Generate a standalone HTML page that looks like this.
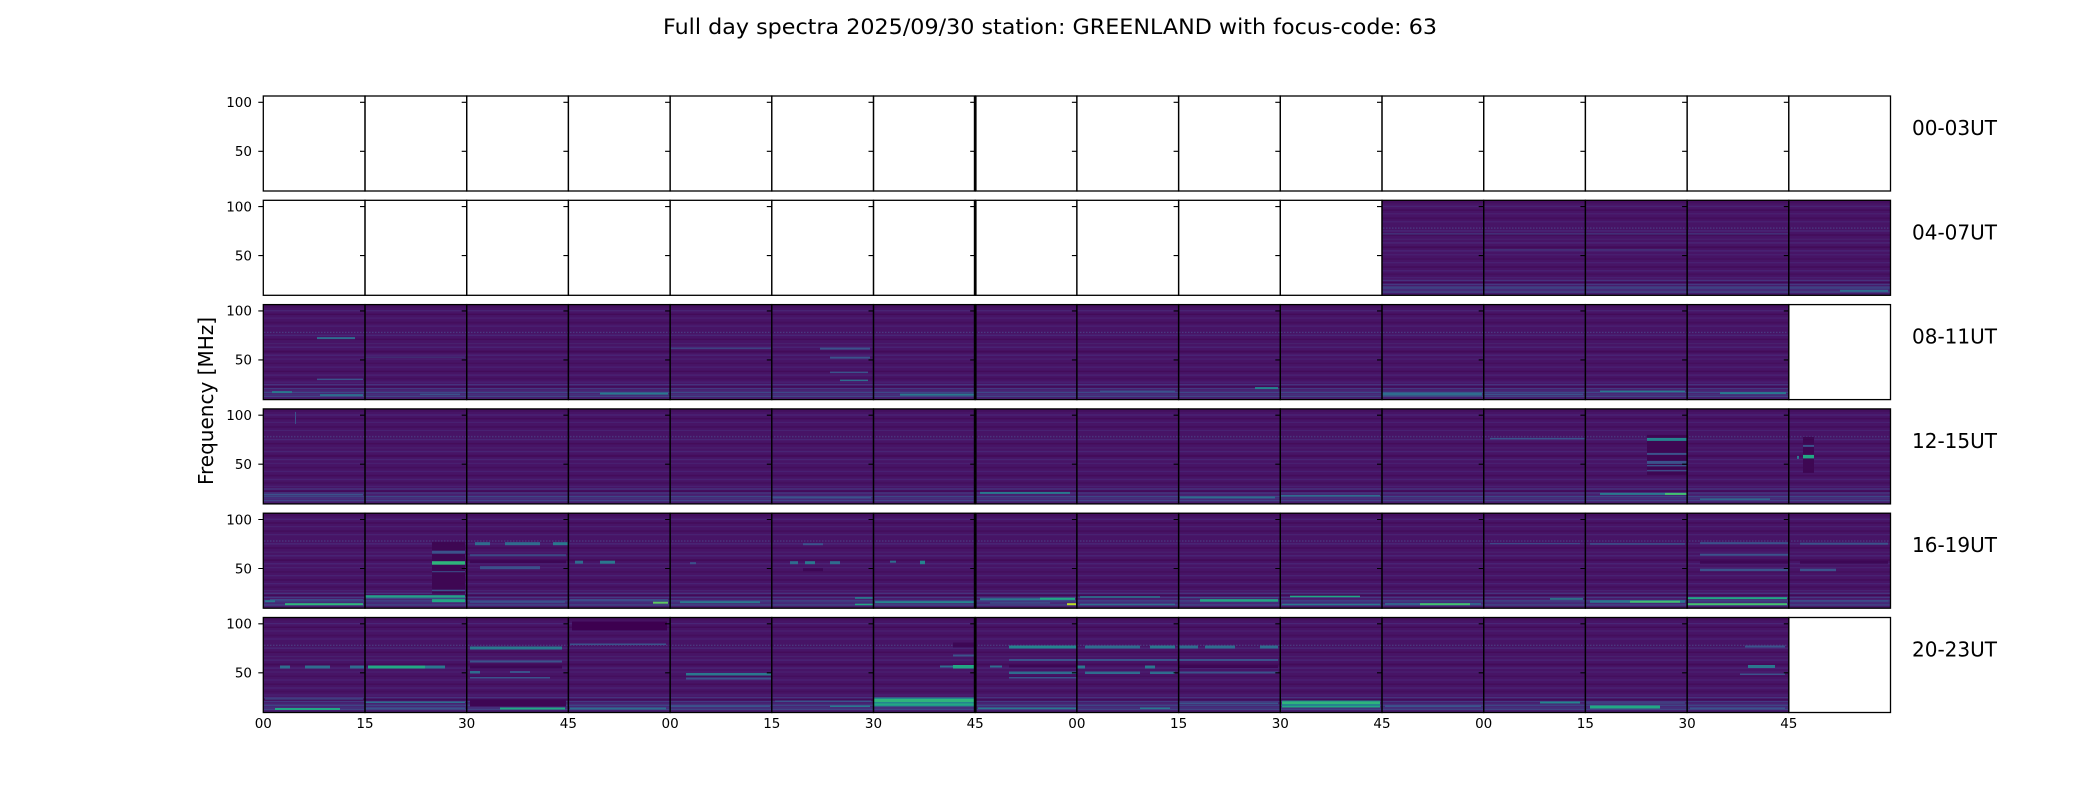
<!DOCTYPE html>
<html><head><meta charset="utf-8"><style>
html,body{margin:0;padding:0;background:#fff;}
svg{display:block;}
text{font-family:"DejaVu Sans","Liberation Sans",sans-serif;fill:#000;}
</style></head><body>
<svg width="2100" height="800" viewBox="0 0 2100 800" xmlns="http://www.w3.org/2000/svg">
<defs>
<pattern id="bg" patternUnits="userSpaceOnUse" x="0" y="96" width="2100" height="104.3">
<rect width="2100" height="95" fill="#471466"/>
<rect y="0" width="2100" height="3" fill="#440f5e"/>
<rect y="5.5" width="2100" height="1.2" fill="#482576"/>
<rect y="9" width="2100" height="1.5" fill="#430b59"/>
<rect y="13" width="2100" height="1" fill="#482273"/>
<rect y="17" width="2100" height="2" fill="#440e5d"/>
<rect y="21" width="2100" height="1" fill="#482475"/>
<line x1="0" y1="27.8" x2="2100" y2="27.8" stroke="#4a3a80" stroke-width="1.2" stroke-dasharray="1.5 1.5"/>
<rect y="30" width="2100" height="1.3" fill="#482878"/>
<rect y="34" width="2100" height="1.5" fill="#430c5a"/>
<rect y="38.5" width="2100" height="1" fill="#48226f"/>
<rect y="42" width="2100" height="1.2" fill="#482677"/>
<rect y="46" width="2100" height="2" fill="#430b59"/>
<rect y="50" width="2100" height="1.2" fill="#482677"/>
<rect y="54" width="2100" height="1" fill="#482273"/>
<rect y="58" width="2100" height="1.5" fill="#440e5d"/>
<rect y="62" width="2100" height="1" fill="#482475"/>
<rect y="66" width="2100" height="1.5" fill="#430c5a"/>
<rect y="70" width="2100" height="1" fill="#482677"/>
<rect y="73" width="2100" height="2" fill="#440f5e"/>
<rect y="77" width="2100" height="1" fill="#482475"/>
<rect y="79.5" width="2100" height="1.2" fill="#453781"/>
<rect y="81.5" width="2100" height="1.5" fill="#420a58"/>
<rect y="83.5" width="2100" height="1.2" fill="#433e85"/>
<rect y="85.5" width="2100" height="1" fill="#482576"/>
<rect y="87" width="2100" height="1.5" fill="#3e4989"/>
<rect y="89" width="2100" height="1.5" fill="#46307e"/>
<rect y="91" width="2100" height="1.5" fill="#3f4788"/>
<rect y="93" width="2100" height="2" fill="#471d6d"/>
</pattern>
<g id="frames" fill="none" stroke="#000">
<g stroke-width="1.3">
<rect x="263.3" y="0" width="101.7" height="95"/>
<rect x="365.0" y="0" width="101.7" height="95"/>
<rect x="466.7" y="0" width="101.7" height="95"/>
<rect x="568.4" y="0" width="101.7" height="95"/>
<rect x="670.1" y="0" width="101.7" height="95"/>
<rect x="771.8" y="0" width="101.7" height="95"/>
<rect x="873.5" y="0" width="101.7" height="95"/>
<rect x="975.2" y="0" width="101.7" height="95"/>
<rect x="1076.9" y="0" width="101.7" height="95"/>
<rect x="1178.6" y="0" width="101.7" height="95"/>
<rect x="1280.3" y="0" width="101.7" height="95"/>
<rect x="1382.0" y="0" width="101.7" height="95"/>
<rect x="1483.7" y="0" width="101.7" height="95"/>
<rect x="1585.4" y="0" width="101.7" height="95"/>
<rect x="1687.1" y="0" width="101.7" height="95"/>
<rect x="1788.8" y="0" width="101.7" height="95"/>
</g>
<line x1="975.2" y1="0" x2="975.2" y2="95" stroke-width="2.8"/>
<path stroke-width="1.1" d="M263.3 6.3h-5M263.3 55.3h-5M365 6.3h-5M365 55.3h-5M466.7 6.3h-5M466.7 55.3h-5M568.4 6.3h-5M568.4 55.3h-5M670.1 6.3h-5M670.1 55.3h-5M771.8 6.3h-5M771.8 55.3h-5M873.5 6.3h-5M873.5 55.3h-5M975.2 6.3h-5M975.2 55.3h-5M1076.9 6.3h-5M1076.9 55.3h-5M1178.6 6.3h-5M1178.6 55.3h-5M1280.3 6.3h-5M1280.3 55.3h-5M1382 6.3h-5M1382 55.3h-5M1483.7 6.3h-5M1483.7 55.3h-5M1585.4 6.3h-5M1585.4 55.3h-5M1687.1 6.3h-5M1687.1 55.3h-5M1788.8 6.3h-5M1788.8 55.3h-5"/>
<text x="252" y="11.1" text-anchor="end" font-size="13.5" stroke="none">100</text>
<text x="252" y="60.1" text-anchor="end" font-size="13.5" stroke="none">50</text>
</g>
</defs>

<!-- data areas -->
<rect x="1382" y="200.3" width="508.5" height="95" fill="url(#bg)"/>
<rect x="263.3" y="304.6" width="1525.5" height="95" fill="url(#bg)"/>
<rect x="263.3" y="408.9" width="1627.2" height="95" fill="url(#bg)"/>
<rect x="263.3" y="513.2" width="1627.2" height="95" fill="url(#bg)"/>
<rect x="263.3" y="617.5" width="1525.5" height="95" fill="url(#bg)"/>

<!-- row 2 features -->
<g transform="translate(0,200.3)">
<rect x="1382" y="33" width="406" height="1.2" fill="#3e4a88" opacity=".7"/>
<rect x="1483" y="49" width="204" height="1" fill="#3b528b" opacity=".6"/>
<rect x="1382" y="86" width="508" height="1" fill="#3b528b" opacity=".6"/>
<rect x="1840" y="89.5" width="48" height="2" fill="#2f6c8e"/>
</g>

<!-- row 3 features -->
<g transform="translate(0,304.6)">
<rect x="317" y="32.5" width="38" height="2" fill="#2f6c8e"/>
<rect x="317" y="74" width="46" height="1.5" fill="#3b528b"/>
<rect x="272" y="86.5" width="20" height="2" fill="#2a788e"/>
<rect x="320" y="89.5" width="43" height="2" fill="#2f6c8e"/>
<rect x="365" y="52" width="100" height="1" fill="#3b528b" opacity=".6"/>
<rect x="420" y="89" width="40" height="1.5" fill="#3b528b"/>
<rect x="600" y="88" width="68" height="2" fill="#2a788e"/>
<rect x="670" y="43" width="101" height="1.5" fill="#3b528b" opacity=".7"/>
<rect x="820" y="43" width="50" height="2" fill="#3b528b"/>
<rect x="830" y="52" width="40" height="2" fill="#3b528b"/>
<rect x="830" y="67" width="38" height="1.5" fill="#3b528b"/>
<rect x="840" y="75" width="28" height="1.5" fill="#2f6c8e"/>
<rect x="900" y="89" width="75" height="2" fill="#2a788e"/>
<rect x="1100" y="86" width="75" height="1.5" fill="#3b528b"/>
<rect x="1255" y="82.5" width="23" height="2" fill="#25848e"/>
<rect x="1382" y="88" width="100" height="3" fill="#2f6c8e"/>
<rect x="1483" y="89" width="100" height="1.5" fill="#3b528b"/>
<rect x="1600" y="86" width="85" height="1.5" fill="#2a788e"/>
<rect x="1720" y="87.5" width="66" height="2" fill="#2a788e"/>
</g>

<!-- row 4 features -->
<g transform="translate(0,408.9)">
<rect x="295" y="3" width="1" height="12" fill="#3b528b"/>
<rect x="263" y="85" width="100" height="1.5" fill="#3b528b"/>
<rect x="771" y="88" width="100" height="1.5" fill="#3b528b"/>
<rect x="980" y="83" width="90" height="2" fill="#2a788e"/>
<rect x="1180" y="87.5" width="95" height="2" fill="#2f6c8e"/>
<rect x="1280" y="86" width="100" height="1.5" fill="#2f6c8e"/>
<rect x="1490" y="29" width="95" height="1.5" fill="#3b528b"/>
<rect x="1647" y="26" width="40" height="40" fill="#3e0753"/>
<rect x="1647" y="29" width="40" height="3" fill="#25848e"/>
<rect x="1647" y="44" width="40" height="2" fill="#3b528b"/>
<rect x="1647" y="52" width="40" height="3" fill="#3b528b"/>
<rect x="1647" y="56" width="40" height="1.5" fill="#3b528b"/>
<rect x="1647" y="61" width="40" height="1.5" fill="#3e4a88"/>
<rect x="1600" y="84" width="87" height="2" fill="#2a788e"/>
<rect x="1665" y="84" width="22" height="2" fill="#44bf70"/>
<rect x="1700" y="89.5" width="70" height="1.5" fill="#2f6c8e"/>
<rect x="1803" y="28" width="11" height="36" fill="#3e0753"/>
<rect x="1803" y="36" width="11" height="2" fill="#3b528b"/>
<rect x="1803" y="46" width="11" height="3.5" fill="#22a884"/>
<rect x="1797" y="47" width="2" height="3" fill="#2a788e"/>
</g>

<!-- row 5 features -->
<g transform="translate(0,513.2)">
<rect x="270" y="86" width="93" height="1" fill="#3b528b"/>
<rect x="265" y="87" width="10" height="2" fill="#2a788e"/>
<rect x="285" y="90" width="78" height="2" fill="#2fb47c"/>
<rect x="365" y="82" width="100" height="2.5" fill="#25a08a"/>
<rect x="365" y="85" width="100" height="1" fill="#3b528b"/>
<rect x="432" y="28.5" width="33" height="52" fill="#3e0753"/>
<rect x="432" y="37.5" width="33" height="3" fill="#3b528b"/>
<rect x="432" y="48" width="33" height="3.5" fill="#2fb47c"/>
<rect x="432" y="58" width="33" height="1" fill="#3b528b"/>
<rect x="432" y="76.5" width="33" height="1.5" fill="#3b528b"/>
<rect x="432" y="86" width="33" height="3" fill="#22a884"/>
<rect x="475" y="29" width="15" height="3" fill="#2f6c8e"/>
<rect x="505" y="29" width="35" height="3" fill="#2f6c8e"/>
<rect x="553" y="29" width="15" height="3" fill="#2a788e"/>
<rect x="470" y="41" width="96" height="2" fill="#3b528b" opacity=".8"/>
<rect x="470" y="47" width="96" height="3" fill="#3d0755"/>
<rect x="480" y="53" width="60" height="3" fill="#3b528b"/>
<rect x="470" y="88" width="95" height="1.5" fill="#3b528b"/>
<rect x="575" y="47.5" width="8" height="3" fill="#2f6c8e"/>
<rect x="600" y="47.5" width="15" height="3" fill="#2a788e"/>
<rect x="570" y="86" width="98" height="1.5" fill="#3b528b"/>
<rect x="653" y="88.5" width="15" height="2" fill="#5ec962"/>
<rect x="680" y="88" width="80" height="2" fill="#2a788e"/>
<rect x="690" y="49" width="6" height="2" fill="#3b528b"/>
<rect x="790" y="48" width="8" height="3" fill="#2f6c8e"/>
<rect x="805" y="48" width="10" height="3" fill="#2a788e"/>
<rect x="830" y="48" width="10" height="3" fill="#2f6c8e"/>
<rect x="803" y="30" width="20" height="2" fill="#3b528b"/>
<rect x="803" y="55" width="20" height="3" fill="#3d0755"/>
<rect x="855" y="84" width="18" height="1.5" fill="#25848e"/>
<rect x="855" y="90.5" width="18" height="1.5" fill="#22a884"/>
<rect x="920" y="47.5" width="5" height="3.5" fill="#25848e"/>
<rect x="890" y="47.5" width="6" height="2" fill="#2f6c8e"/>
<rect x="875" y="88" width="100" height="2" fill="#25848e"/>
<rect x="980" y="85" width="95" height="2" fill="#2a788e"/>
<rect x="1040" y="84.5" width="35" height="2" fill="#22a884"/>
<rect x="990" y="89" width="60" height="1.5" fill="#3b528b"/>
<rect x="1067" y="90" width="9" height="2" fill="#bddf26"/>
<rect x="1080" y="83" width="80" height="1.5" fill="#2a788e"/>
<rect x="1080" y="90.5" width="95" height="1.5" fill="#2f6c8e"/>
<rect x="1180" y="84" width="98" height="1" fill="#3b528b"/>
<rect x="1200" y="86" width="78" height="2.5" fill="#22a884"/>
<rect x="1290" y="82.5" width="70" height="1.5" fill="#22a884"/>
<rect x="1282" y="90.5" width="98" height="1.5" fill="#2a788e"/>
<rect x="1385" y="90" width="96" height="1.5" fill="#2f6c8e"/>
<rect x="1420" y="90" width="50" height="2" fill="#44bf70"/>
<rect x="1490" y="30" width="90" height="1" fill="#3b528b"/>
<rect x="1550" y="85" width="33" height="1.5" fill="#25848e"/>
<rect x="1590" y="30" width="95" height="1.5" fill="#3b528b"/>
<rect x="1590" y="87" width="95" height="2.5" fill="#2a788e"/>
<rect x="1630" y="87.5" width="50" height="2" fill="#44bf70"/>
<rect x="1700" y="29" width="88" height="2" fill="#3b528b"/>
<rect x="1700" y="40.5" width="88" height="2" fill="#3b528b"/>
<rect x="1700" y="47.5" width="88" height="3" fill="#3d0755"/>
<rect x="1700" y="55.5" width="88" height="2.5" fill="#3b528b"/>
<rect x="1687" y="84" width="100" height="2" fill="#22a884"/>
<rect x="1687" y="90" width="100" height="2" fill="#44bf70"/>
<rect x="1800" y="29.5" width="88" height="2" fill="#3b528b"/>
<rect x="1800" y="47.5" width="88" height="3" fill="#3d0755"/>
<rect x="1800" y="55.5" width="36" height="2.5" fill="#3b528b"/>
<rect x="1790" y="87" width="98" height="1.5" fill="#3b528b"/>
</g>

<!-- row 6 features -->
<g transform="translate(0,617.5)">
<rect x="280" y="48" width="10" height="3" fill="#2f6c8e"/>
<rect x="305" y="48" width="25" height="3" fill="#2f6c8e"/>
<rect x="350" y="48" width="14" height="3" fill="#2f6c8e"/>
<rect x="265" y="81" width="98" height="1" fill="#3b528b"/>
<rect x="275" y="90.5" width="65" height="2" fill="#22a884"/>
<rect x="368" y="48" width="57" height="3" fill="#22a884"/>
<rect x="425" y="48" width="20" height="3" fill="#2a788e"/>
<rect x="365" y="84" width="100" height="1.5" fill="#2f6c8e"/>
<rect x="365" y="90" width="100" height="1.5" fill="#3b528b"/>
<rect x="470" y="29" width="92" height="3" fill="#2a788e"/>
<rect x="470" y="43" width="92" height="2" fill="#3b528b"/>
<rect x="470" y="48" width="92" height="3" fill="#3d0755"/>
<rect x="470" y="53.5" width="10" height="2.5" fill="#2f6c8e"/>
<rect x="510" y="53.5" width="20" height="2" fill="#3b528b"/>
<rect x="470" y="59.5" width="80" height="1.5" fill="#3b528b"/>
<rect x="470" y="82" width="96" height="7" fill="#3e0654"/>
<rect x="500" y="90" width="65" height="2" fill="#22a884"/>
<rect x="572" y="4" width="95" height="9" fill="#3d0050"/>
<rect x="570" y="26" width="96" height="1.5" fill="#3b528b"/>
<rect x="570" y="90" width="96" height="2" fill="#2f6c8e"/>
<rect x="686" y="55.5" width="85" height="2.5" fill="#2a788e"/>
<rect x="686" y="60" width="85" height="2" fill="#3b528b"/>
<rect x="670" y="88" width="100" height="1.5" fill="#3b528b"/>
<rect x="775" y="83" width="96" height="1.5" fill="#3b528b"/>
<rect x="830" y="88" width="40" height="1.5" fill="#2a788e"/>
<rect x="940" y="48" width="15" height="2" fill="#2f6c8e"/>
<rect x="953" y="25" width="22" height="5" fill="#3d0755"/>
<rect x="953" y="37" width="22" height="2" fill="#3b528b"/>
<rect x="953" y="47.5" width="22" height="3.5" fill="#22a884"/>
<rect x="873" y="80" width="102" height="9" fill="#25848e"/>
<rect x="873" y="81.5" width="102" height="3" fill="#2fb47c"/>
<rect x="873" y="86" width="102" height="2" fill="#22a884"/>
<rect x="1009" y="28" width="68" height="3" fill="#25848e"/>
<rect x="1009" y="41.5" width="68" height="2" fill="#3b528b"/>
<rect x="1009" y="47" width="68" height="3" fill="#3d0755"/>
<rect x="1009" y="54" width="68" height="2.5" fill="#2f6c8e"/>
<rect x="1009" y="59.5" width="68" height="1.5" fill="#3b528b"/>
<rect x="990" y="48" width="12" height="2" fill="#2f6c8e"/>
<rect x="978" y="90" width="98" height="1.5" fill="#2a788e"/>
<rect x="1085" y="28" width="55" height="3" fill="#2f6c8e"/>
<rect x="1150" y="28" width="25" height="3" fill="#2a788e"/>
<rect x="1077" y="41.5" width="100" height="2" fill="#3b528b"/>
<rect x="1077" y="48" width="8" height="3" fill="#2a788e"/>
<rect x="1145" y="48" width="10" height="3" fill="#2a788e"/>
<rect x="1085" y="54" width="55" height="2.5" fill="#2f6c8e"/>
<rect x="1150" y="54" width="25" height="2.5" fill="#2f6c8e"/>
<rect x="1140" y="90" width="30" height="1.5" fill="#2a788e"/>
<rect x="1178" y="28" width="20" height="3" fill="#2f6c8e"/>
<rect x="1205" y="28" width="30" height="3" fill="#2f6c8e"/>
<rect x="1260" y="28" width="18" height="3" fill="#2f6c8e"/>
<rect x="1178" y="41.5" width="100" height="2" fill="#3b528b"/>
<rect x="1178" y="47.5" width="100" height="3" fill="#3d0755"/>
<rect x="1178" y="54" width="100" height="2" fill="#3b528b"/>
<rect x="1178" y="85" width="100" height="1.5" fill="#3b528b"/>
<rect x="1282" y="83" width="98" height="7" fill="#25848e"/>
<rect x="1282" y="84" width="98" height="2.5" fill="#2fb47c"/>
<rect x="1282" y="88.5" width="98" height="1.5" fill="#22a884"/>
<rect x="1385" y="88" width="96" height="1.5" fill="#3b528b"/>
<rect x="1540" y="84" width="40" height="2" fill="#25848e"/>
<rect x="1585" y="85" width="100" height="1" fill="#3b528b"/>
<rect x="1590" y="88" width="70" height="3" fill="#22a884"/>
<rect x="1745" y="28" width="40" height="2" fill="#3b528b"/>
<rect x="1748" y="47.5" width="27" height="3" fill="#2a788e"/>
<rect x="1740" y="56" width="45" height="1.5" fill="#3b528b"/>
<rect x="1690" y="90" width="95" height="1.5" fill="#3b528b"/>
</g>

<!-- frames -->
<use href="#frames" x="0" y="96"/>
<use href="#frames" x="0" y="200.3"/>
<use href="#frames" x="0" y="304.6"/>
<use href="#frames" x="0" y="408.9"/>
<use href="#frames" x="0" y="513.2"/>
<use href="#frames" x="0" y="617.5"/>

<!-- title -->
<text x="1050" y="34" text-anchor="middle" font-size="21.5" textLength="774" lengthAdjust="spacingAndGlyphs">Full day spectra 2025/09/30 station: GREENLAND with focus-code: 63</text>

<!-- y label -->
<text transform="translate(213,401) rotate(-90)" text-anchor="middle" font-size="20">Frequency [MHz]</text>

<!-- row labels -->
<g font-size="20">
<text x="1912" y="135">00-03UT</text>
<text x="1912" y="239.3">04-07UT</text>
<text x="1912" y="343.6">08-11UT</text>
<text x="1912" y="447.9">12-15UT</text>
<text x="1912" y="552.2">16-19UT</text>
<text x="1912" y="656.5">20-23UT</text>
</g>

<!-- x tick labels -->
<g font-size="13.5" text-anchor="middle">
<text x="263.3" y="728">00</text>
<text x="365.0" y="728">15</text>
<text x="466.7" y="728">30</text>
<text x="568.4" y="728">45</text>
<text x="670.1" y="728">00</text>
<text x="771.8" y="728">15</text>
<text x="873.5" y="728">30</text>
<text x="975.2" y="728">45</text>
<text x="1076.9" y="728">00</text>
<text x="1178.6" y="728">15</text>
<text x="1280.3" y="728">30</text>
<text x="1382.0" y="728">45</text>
<text x="1483.7" y="728">00</text>
<text x="1585.4" y="728">15</text>
<text x="1687.1" y="728">30</text>
<text x="1788.8" y="728">45</text>
</g>
</svg>
</body></html>
